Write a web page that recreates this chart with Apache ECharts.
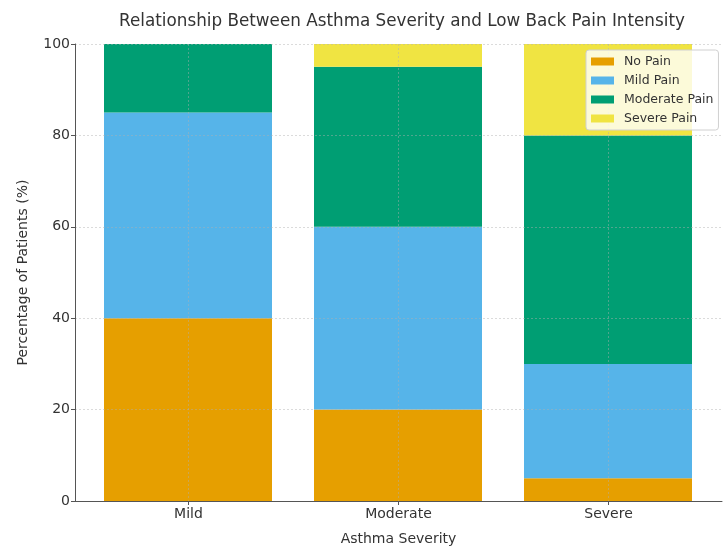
<!DOCTYPE html>
<html>
<head>
<meta charset="utf-8">
<script src="https://cdn.jsdelivr.net/npm/echarts@6/dist/echarts.min.js"></script>
<style>
  html, body { margin: 0; padding: 0; background: #fff; }
  #chart { width: 725px; height: 546px; }
</style>
</head>
<body>
<div id="chart"></div>
<script>
// Asthma severity groups and the share of patients in each pain class (%)
const categories = ['Mild', 'Moderate', 'Severe'];
const noPain = [40, 20, 5];
const mildPain = [45, 40, 25];
const moderatePain = [15, 35, 50];
const severePain = [0, 5, 20];
const yTicks = [0, 20, 40, 60, 80, 100];
const categoryPositions = [0, 1, 2];

const seriesDefs = [
  { name: 'No Pain', values: noPain, color: '#E69F00' },
  { name: 'Mild Pain', values: mildPain, color: '#56B4E9' },
  { name: 'Moderate Pain', values: moderatePain, color: '#009E73' },
  { name: 'Severe Pain', values: severePain, color: '#F0E442' }
];

const chart = echarts.init(document.getElementById('chart'), null, { renderer: 'canvas' });
const textColor = '#333';
const axisColor = '#555';
const font = 'DejaVu Sans';
const gridLine = { color: 'rgba(175,175,175,0.45)', type: [2, 2], width: 1 };

const option = {
  animation: false,
  textStyle: { fontFamily: font },
  title: {
    text: 'Relationship Between Asthma Severity and Low Back Pain Intensity',
    left: 397, top: 8, textAlign: 'center',
    textStyle: { fontFamily: font, fontSize: 16.8, fontWeight: 'normal', color: textColor }
  },
  legend: {
    orient: 'vertical',
    left: 586, top: 50,
    itemWidth: 23, itemHeight: 8, itemGap: 6,
    padding: [5, 5, 5, 5],
    backgroundColor: 'rgba(255,255,255,0.8)',
    borderColor: '#d0d0d0', borderWidth: 1, borderRadius: 3,
    icon: 'rect',
    textStyle: { fontFamily: font, fontSize: 12.5, color: textColor, padding: [0, 0, 0, 5] },
    data: seriesDefs.map(s => s.name)
  },
  grid: [
    // full axes frame with the side margins around the bar groups
    { left: 75, right: 3, top: 44, bottom: 45, outerBoundsMode: 'none', containLabel: false },
    // band layout for the three bar groups
    { left: 83, right: 12, top: 44, bottom: 45, outerBoundsMode: 'none', containLabel: false }
  ],
  xAxis: [
    {
      type: 'value', gridIndex: 0,
      min: -0.54, max: 2.54,
      z: 3,
      name: 'Asthma Severity',
      nameLocation: 'middle', nameGap: 31,
      nameTextStyle: { fontFamily: font, fontSize: 14, color: textColor },
      axisLine: { show: true, onZero: false, lineStyle: { color: axisColor, width: 1 } },
      axisTick: { show: true, customValues: categoryPositions, length: 4, lineStyle: { color: axisColor } },
      axisLabel: {
        customValues: categoryPositions,
        formatter: v => categories[Math.round(v)] || '',
        fontFamily: font, fontSize: 14, color: textColor, margin: 6
      },
      splitLine: { show: true, lineStyle: gridLine }
    },
    {
      type: 'category', gridIndex: 1,
      data: categories,
      show: false
    }
  ],
  yAxis: [
    {
      type: 'value', gridIndex: 0,
      min: 0, max: 100, interval: 20,
      z: 3,
      name: 'Percentage of Patients (%)',
      nameLocation: 'middle', nameGap: 45,
      nameTextStyle: { fontFamily: font, fontSize: 14, color: textColor },
      axisLine: { show: true, onZero: false, lineStyle: { color: axisColor, width: 1 } },
      axisTick: { show: true, inside: false, length: 4, lineStyle: { color: axisColor } },
      axisLabel: {
        fontFamily: font, fontSize: 14, color: textColor, margin: 5,
        formatter: v => (yTicks.includes(v) ? String(v) : '')
      },
      splitLine: { show: true, lineStyle: gridLine }
    },
    {
      type: 'value', gridIndex: 1,
      min: 0, max: 100,
      show: false
    }
  ],
  series: seriesDefs.map(s => ({
    name: s.name,
    type: 'bar',
    xAxisIndex: 1, yAxisIndex: 1,
    stack: 'pain',
    barWidth: '80%',
    itemStyle: { color: s.color },
    data: s.values
  }))
};

chart.setOption(option);
</script>
</body>
</html>
